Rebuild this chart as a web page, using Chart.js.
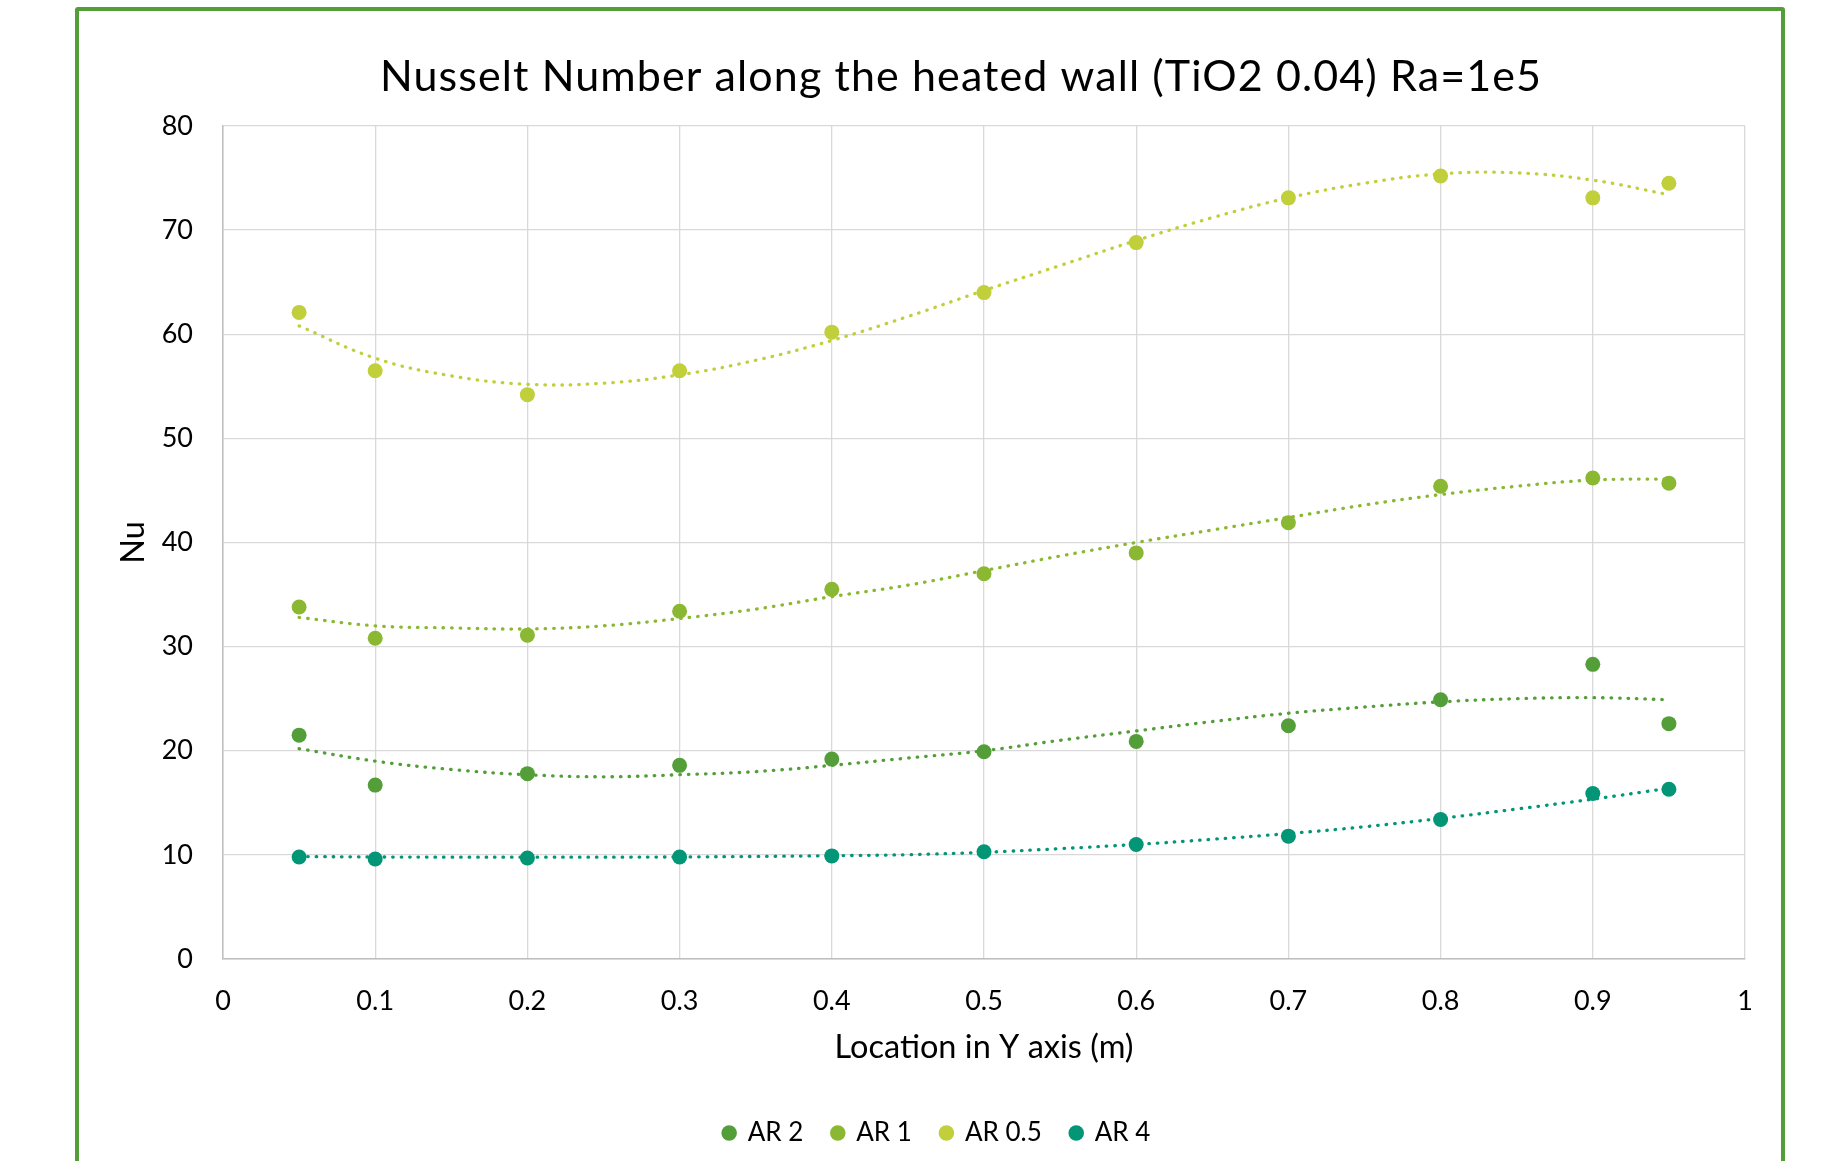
<!DOCTYPE html>
<html>
<head>
<meta charset="utf-8">
<script src="https://cdn.jsdelivr.net/npm/chart.js@4.4.1/dist/chart.umd.min.js"></script>
<style>
  html, body { margin: 0; padding: 0; background: #fff; overflow: hidden; }
  #frame {
    position: absolute; left: 75px; top: 7px; width: 1702px; height: 1200px;
    border: 4px solid #549E39; border-radius: 3px;
  }
  #wrap { position: absolute; left: 0; top: 0; width: 1823px; height: 1161px; }
</style>
</head>
<body>
<div id="frame"></div>
<div id="wrap"><canvas id="nuChart"></canvas></div>
<script>
// measured points (location in Y axis, m)
const xLoc = [0.05, 0.1, 0.2, 0.3, 0.4, 0.5, 0.6, 0.7, 0.8, 0.9, 0.95];
const nuAR2  = [21.5, 16.7, 17.8, 18.6, 19.2, 19.9, 20.9, 22.4, 24.9, 28.3, 22.6];
const nuAR1  = [33.8, 30.8, 31.1, 33.4, 35.5, 37.0, 39.0, 41.9, 45.4, 46.2, 45.7];
const nuAR05 = [62.1, 56.5, 54.2, 56.5, 60.2, 64.0, 68.8, 73.1, 75.2, 73.1, 74.5];
const nuAR4  = [9.8, 9.6, 9.7, 9.8, 9.9, 10.3, 11.0, 11.8, 13.4, 15.9, 16.3];

// dotted trendlines
const trendX = [0.05, 0.1, 0.15, 0.2, 0.25, 0.3, 0.35, 0.4, 0.45, 0.5, 0.55, 0.6, 0.65, 0.7, 0.75, 0.8, 0.85, 0.9, 0.95];
const trendAR2  = [20.2, 19.0, 18.2, 17.7, 17.5, 17.7, 18.0, 18.6, 19.3, 20.0, 21.0, 21.9, 22.8, 23.6, 24.2, 24.7, 25.0, 25.1, 24.9];
const trendAR1  = [32.8, 32.0, 31.8, 31.7, 32.0, 32.7, 33.6, 34.8, 35.9, 37.3, 38.7, 40.0, 41.2, 42.4, 43.6, 44.6, 45.4, 46.0, 46.1];
const trendAR05 = [60.8, 57.7, 56.0, 55.2, 55.3, 56.1, 57.5, 59.4, 61.7, 64.2, 66.6, 69.0, 71.2, 73.1, 74.5, 75.4, 75.5, 74.8, 73.4];
const trendAR4  = [9.84, 9.8, 9.78, 9.78, 9.78, 9.8, 9.85, 9.92, 10.02, 10.25, 10.6, 11.0, 11.5, 12.05, 12.7, 13.5, 14.4, 15.35, 16.4];

const seriesNames = ["AR 2", "AR 1", "AR 0.5", "AR 4"];
const colors = ["#549E39", "#8AB833", "#C0CF3A", "#029676"];

const xTicks = [0, 0.1, 0.2, 0.3, 0.4, 0.5, 0.6, 0.7, 0.8, 0.9, 1];
const yTicks = [0, 10, 20, 30, 40, 50, 60, 70, 80];

const chartTitle = "Nusselt Number along the heated wall (TiO2 0.04) Ra=1e5";

const FONT = "Lato";

function pts(xs, ys) {
  return xs.map((x, i) => ({ x: x, y: ys[i] }));
}

const pointSets = [nuAR2, nuAR1, nuAR05, nuAR4].map((ys, i) => ({
  label: seriesNames[i],
  data: pts(xLoc, ys),
  backgroundColor: colors[i],
  borderColor: colors[i],
  borderWidth: 0,
  pointRadius: 7.5,
  pointHoverRadius: 7.5,
  pointBorderWidth: 0,
  showLine: false
}));

const trendSets = [trendAR2, trendAR1, trendAR05, trendAR4].map((ys, i) => ({
  label: seriesNames[i] + " trend",
  data: pts(trendX, ys),
  borderColor: colors[i],
  backgroundColor: colors[i],
  borderWidth: 3.3,
  borderDash: [0.5, 8],
  borderCapStyle: "round",
  pointRadius: 0,
  showLine: true,
  tension: 0.4,
  fill: false
}));

// title drawn as plain canvas text so it can sit centred on the frame
const titlePlugin = {
  id: "frameTitle",
  afterDraw(chart) {
    const ctx = chart.ctx;
    ctx.save();
    ctx.font = "43px " + FONT;
    ctx.letterSpacing = "1.1px";
    ctx.fillStyle = "#000";
    ctx.textAlign = "center";
    ctx.textBaseline = "alphabetic";
    ctx.fillText(chartTitle, 961, 91);
    ctx.restore();
  }
};

new Chart(document.getElementById("nuChart"), {
  type: "scatter",
  data: { datasets: pointSets.concat(trendSets) },
  plugins: [titlePlugin],
  options: {
    responsive: true,
    maintainAspectRatio: false,
    animation: false,
    layout: { padding: { left: 60, right: 9, top: 126, bottom: 5 } },
    plugins: {
      title: { display: false },
      tooltip: { enabled: false },
      legend: {
        position: "bottom",
        labels: {
          usePointStyle: true,
          pointStyle: "circle",
          boxWidth: 11,
          boxHeight: 11,
          padding: 29,
          color: "#000",
          font: { family: FONT, size: 26 },
          filter: (item) => item.datasetIndex < 4
        }
      }
    },
    scales: {
      x: {
        type: "linear",
        min: 0,
        max: 1,
        afterBuildTicks: (s) => { s.ticks = xTicks.map(v => ({ value: v })); },
        afterFit: (s) => { s.height = 132; },
        grid: { color: "#D9D9D9", lineWidth: 1.3, drawTicks: false },
        border: { color: "#BFBFBF", width: 1.5 },
        ticks: {
          padding: 26,
          color: "#000",
          font: { family: FONT, size: 27 },
          maxRotation: 0,
          callback: (v) => String(Math.round(v * 10) / 10)
        },
        title: {
          display: true,
          text: "Location in Y axis (m)",
          color: "#000",
          font: { family: FONT, size: 32.5 },
          padding: { top: 0, bottom: 24 }
        }
      },
      y: {
        type: "linear",
        min: 0,
        max: 80,
        afterBuildTicks: (s) => { s.ticks = yTicks.map(v => ({ value: v })); },
        afterFit: (s) => { s.width = 163; },
        grid: { color: "#D9D9D9", lineWidth: 1.3, drawTicks: false },
        border: { color: "#BFBFBF", width: 1.5 },
        ticks: {
          padding: 30,
          color: "#000",
          font: { family: FONT, size: 27 }
        },
        title: {
          display: true,
          text: "Nu",
          color: "#000",
          font: { family: FONT, size: 32.5 },
          padding: { top: 54.5, bottom: 0 }
        }
      },
      // empty right-hand axis only to keep the plot area clear of the frame
      spacer: {
        type: "linear",
        position: "right",
        display: true,
        afterFit: (s) => { s.width = 69; },
        grid: { display: false, drawTicks: false },
        border: { display: false },
        ticks: { display: false }
      }
    }
  }
});
</script>
</body>
</html>
